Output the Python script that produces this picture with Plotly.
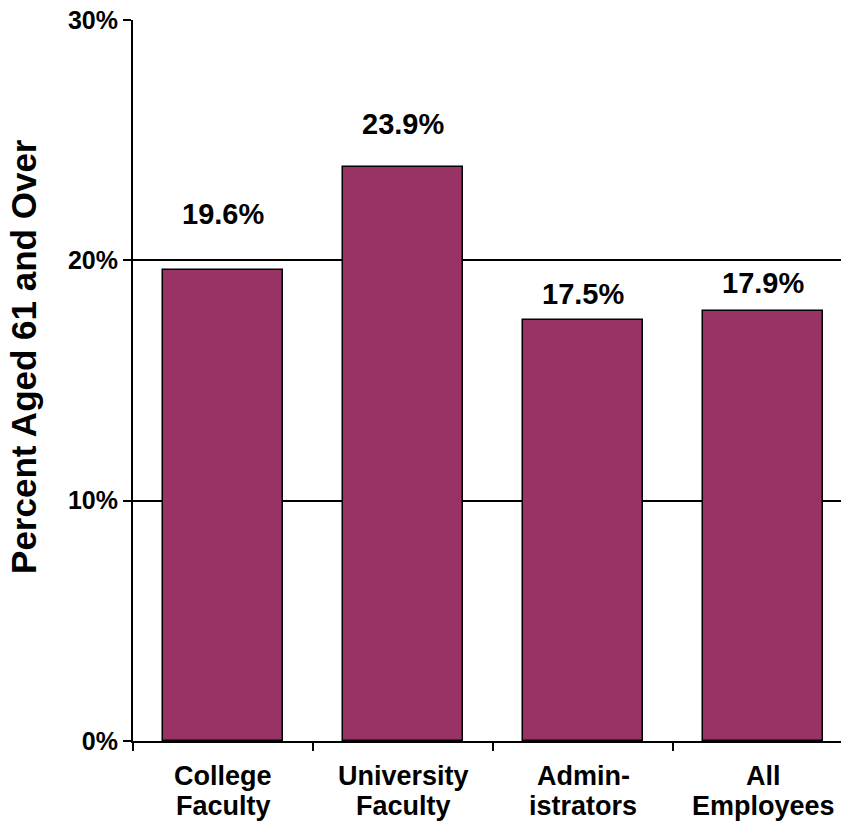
import plotly.graph_objects as go

# Share of employees aged 61 and over, by group
categories = ["College<br>Faculty", "University<br>Faculty", "Admin-<br>istrators", "All<br>Employees"]
values = [19.6, 23.9, 17.5, 17.9]
label_lift = [56, 43, 26, 28]  # pixel gap from bar top to value label centre

y_ticks = [0, 10, 20, 30]
y_tick_text = ["0%", "10%", "20%", "30%"]

FONT = "Arial, Liberation Sans, sans-serif"
BAR = "#993366"
CAT_LINE_DROP = [35, 65]  # px below the baseline for each category label line

fig = go.Figure()
fig.add_trace(go.Bar(
    x=list(range(len(categories))),
    y=values,
    width=0.667,
    marker=dict(color=BAR, line=dict(color="black", width=1.5)),
    hoverinfo="skip",
))

for i, (v, lift) in enumerate(zip(values, label_lift)):
    fig.add_annotation(
        x=i, y=v, xref="x", yref="y",
        text=f"<b>{v:.1f}%</b>", showarrow=False,
        yshift=lift, yanchor="middle",
        font=dict(family=FONT, size=29, color="black"),
    )

# two-line category labels, set with tighter leading than tick labels allow
for i, cat in enumerate(categories):
    for line, drop in zip(cat.split("<br>"), CAT_LINE_DROP):
        fig.add_annotation(
            x=i, y=0, xref="x", yref="y",
            text=f"<b>{line}</b>", showarrow=False,
            yshift=-drop, yanchor="middle",
            font=dict(family=FONT, size=27, color="black"),
        )

fig.add_annotation(
    xref="paper", yref="paper", x=-0.154, y=0.534,
    text="<b>Percent Aged 61 and Over</b>", textangle=-90,
    showarrow=False, xanchor="center", yanchor="middle",
    font=dict(family=FONT, size=35, color="black"),
)

fig.update_layout(
    width=841, height=822,
    margin=dict(l=133, r=0, t=20, b=81),
    paper_bgcolor="white", plot_bgcolor="white",
    showlegend=False,
    bargap=0,
    xaxis=dict(
        range=[-0.5, 3.4333],
        tickmode="array",
        tickvals=list(range(len(categories))),
        showticklabels=False,
        ticks="",
        automargin=False,
        showgrid=False, zeroline=False,
        showline=True, linecolor="black", linewidth=2,
        minor=dict(tick0=-0.5, dtick=1, ticks="outside", ticklen=8,
                   tickwidth=2, tickcolor="black", showgrid=False),
    ),
    yaxis=dict(
        range=[0, 30],
        tickmode="array",
        tickvals=y_ticks,
        ticktext=[f"<b>{t}</b>" for t in y_tick_text],
        ticks="outside", ticklen=8, tickwidth=2, tickcolor="black",
        automargin=False,
        showgrid=True, gridcolor="black", gridwidth=2,
        zeroline=False,
        showline=True, linecolor="black", linewidth=2,
        tickfont=dict(family=FONT, size=25, color="black"),
    ),
)

fig.write_html("out.html")
